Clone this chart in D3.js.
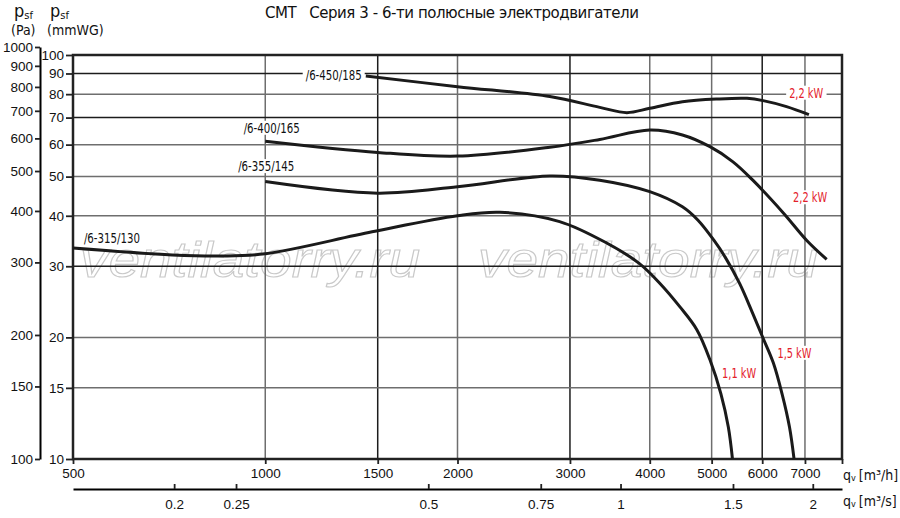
<!DOCTYPE html>
<html>
<head>
<meta charset="utf-8">
<script src="https://cdn.jsdelivr.net/npm/d3@7"></script>
<style>
  html, body { margin: 0; padding: 0; background: #fff; }
  svg { display: block; font-family: "DejaVu Sans Condensed", "DejaVu Sans", sans-serif; }
  .tick text { font-size: 13.5px; fill: #111; }
</style>
</head>
<body>
<div id="chart"></div>
<script>
// axis ticks
const pressureTicks = [10, 15, 20, 30, 40, 50, 60, 70, 80, 90, 100];
const pascalTicks = [100, 150, 200, 300, 400, 500, 600, 700, 800, 900, 1000];
const flowTicks = [500, 1000, 1500, 2000, 3000, 4000, 5000, 6000, 7000, 8000];
const flowSecTicks = [0.2, 0.25, 0.5, 0.75, 1, 1.5, 2];
const gridFlow = [1000, 1500, 2000, 3000, 4000, 5000, 6000, 7000];
const gridPressure = [15, 20, 30, 40, 50, 60, 70, 80, 90];
const darkGridFlow = [1500, 3000, 6000];
const darkGridPressure = [30, 70, 90];

// fan curves: [q m3/h, p mmWG]
const curve315 = [[500, 33.3], [715, 32.0], [850, 31.8], [1000, 32.2], [1470, 36.5], [2000, 40.0], [2330, 40.8],
  [2890, 38.7], [3430, 34.2], [3850, 30.5], [4150, 27.2], [4460, 23.8], [4740, 20.9], [4970, 17.6],
  [5170, 14.5], [5310, 12.0], [5390, 10]];
const curve355 = [[1000, 48.6], [1500, 45.5], [2000, 47.2], [2790, 50.2], [3340, 49.0], [4000, 45.9],
  [4500, 42.1], [4760, 39.0], [5040, 34.8], [5250, 31.6], [5530, 27.2], [5800, 22.9], [6020, 19.9],
  [6245, 17.3], [6445, 14.5], [6620, 12.0], [6730, 10]];
const curve400 = [[1000, 61.2], [1500, 57.4], [2000, 56.2], [2790, 59.1], [3340, 61.8], [4000, 65.2], [4500, 63.4],
  [4970, 59.3], [5400, 54.4], [5800, 49.0], [6480, 40.6], [7040, 34.8], [7570, 31.2]];
const curve450 = [[1437, 88.7], [2000, 83.5], [2790, 78.9], [3340, 74.2], [3684, 72.0], [4000, 73.8],
  [4500, 76.6], [5100, 77.8], [5680, 78.1], [6020, 77.1], [6550, 74.5], [7100, 71.2]];

const curveNames = ["/6-315/130", "/6-355/145", "/6-400/165", "/6-450/185"];
const curveData = [curve315, curve355, curve400, curve450];
// left end of each model name, at its baseline [q, p]
const nameAnchors = [[520, 34.2], [907, 51.6], [925, 64.2], [1157, 86.6]];

const powerLabels = ["1,1 kW", "1,5 kW", "2,2 kW", "2,2 kW"];
// centre of each power label, at its baseline [q, p]
const powerAnchors = [[5520, 15.9], [6740, 17.8], [7030, 78.4], [7130, 43.2]];

const W = 900, H = 518;
const svg = d3.select("#chart").append("svg").attr("width", W).attr("height", H);

const x = d3.scaleLog().domain([500, 8000]).range([73, 842]);
const y = d3.scaleLog().domain([10, 100]).range([459, 55]);
const yPa = d3.scaleLog().domain([100, 1000]).range([459, 47]);
const xSec = d3.scaleLog().domain([500 / 3600, 8000 / 3600]).range([73, 842]);

// title
svg.append("text")
  .attr("x", 452).attr("y", 18)
  .attr("text-anchor", "middle")
  .attr("font-family", "DejaVu Sans, sans-serif")
  .attr("font-size", 15)
  .attr("textLength", 374)
  .attr("fill", "#111")
  .attr("xml:space", "preserve")
  .text("CMT   Серия 3 - 6-ти полюсные электродвигатели");

// watermark
["ventilatorry.ru", "ventilatorry.ru"].forEach((t, i) => {
  svg.append("text")
    .attr("x", 80 + i * 398).attr("y", 277)
    .attr("font-family", "Liberation Sans, Arial, sans-serif")
    .attr("font-style", "italic")
    .attr("font-size", 50)
    .attr("textLength", 340)
    .attr("lengthAdjust", "spacingAndGlyphs")
    .attr("fill", "#fff")
    .attr("stroke", "#c9c9c9")
    .attr("stroke-width", 1.1)
    .text(t);
});

// grid
const grid = svg.append("g");
grid.selectAll("line.v").data(gridFlow).enter().append("line")
  .attr("x1", d => x(d)).attr("x2", d => x(d))
  .attr("y1", y(100)).attr("y2", y(10))
  .attr("stroke", d => darkGridFlow.includes(d) ? "#1c1c1c" : "#6e6e6e")
  .attr("stroke-width", 1.5);
grid.selectAll("line.h").data(gridPressure).enter().append("line")
  .attr("x1", x(500)).attr("x2", x(8000))
  .attr("y1", d => y(d)).attr("y2", d => y(d))
  .attr("stroke", d => darkGridPressure.includes(d) ? "#1c1c1c" : "#6e6e6e")
  .attr("stroke-width", 1.5);

// frame
svg.append("rect")
  .attr("x", x(500)).attr("y", y(100))
  .attr("width", x(8000) - x(500)).attr("height", y(10) - y(100))
  .attr("fill", "none").attr("stroke", "#222").attr("stroke-width", 2.5);

// axes
const fmt = d3.format("d");
const yAxis = svg.append("g").attr("transform", `translate(${x(500)},0)`)
  .call(d3.axisLeft(y).tickValues(pressureTicks).tickFormat(fmt).tickSize(7).tickPadding(2));
yAxis.select(".domain").remove();

const paAxis = svg.append("g").attr("transform", "translate(40,0)")
  .call(d3.axisLeft(yPa).tickValues(pascalTicks).tickFormat(fmt).tickSize(5).tickPadding(2).tickSizeOuter(0));
paAxis.select(".domain").attr("stroke-width", 2);

const xAxis = svg.append("g").attr("transform", `translate(0,${y(10)})`)
  .call(d3.axisBottom(x).tickValues(flowTicks).tickFormat(d => d === 8000 ? "" : fmt(d)).tickSize(5).tickPadding(4));
xAxis.select(".domain").remove();

const secAxis = svg.append("g").attr("transform", "translate(0,489)")
  .call(d3.axisBottom(xSec).tickValues(flowSecTicks).tickFormat(d3.format("")).tickSizeInner(-5).tickSizeOuter(0).tickPadding(10));
secAxis.select(".domain").attr("stroke-width", 2);

svg.selectAll(".tick line").attr("stroke", "#222").attr("stroke-width", 1.8);

// axis titles
const psf = [[14, "(Pa)"], [50, "(mmWG)"]];
psf.forEach(([px, unit]) => {
  const t = svg.append("text").attr("x", px).attr("y", 17).attr("font-size", 18).attr("fill", "#111");
  t.append("tspan").text("p");
  t.append("tspan").attr("font-size", 11).attr("dy", 2).text("sf");
  svg.append("text").attr("x", px - 3).attr("y", 35).attr("font-size", 14).attr("fill", "#111").text(unit);
});
[[475, "[m³/h]"], [501, "[m³/s]"]].forEach(([py, unit]) => {
  const t = svg.append("text").attr("x", 843).attr("y", py + 5).attr("font-size", 14).attr("fill", "#111");
  t.append("tspan").text("q");
  t.append("tspan").attr("font-size", 9).attr("dy", 1).text("v");
  t.append("tspan").attr("dy", -1).attr("dx", 3).text(unit);
});

// curves
const line = d3.line()
  .x(d => x(d[0]))
  .y(d => y(d[1]))
  .curve(d3.curveCatmullRom.alpha(0.5));

svg.append("g").selectAll("path").data(curveData).enter().append("path")
  .attr("d", line)
  .attr("fill", "none")
  .attr("stroke", "#1a1a1a")
  .attr("stroke-width", 3);

// labels with white box behind them
function boxedLabel(g, px, py, txt, color, anchor, len) {
  const t = g.append("text")
    .attr("x", px).attr("y", py)
    .attr("font-size", 14)
    .attr("text-anchor", anchor)
    .attr("textLength", len)
    .attr("lengthAdjust", "spacingAndGlyphs")
    .attr("fill", color)
    .text(txt);
  const b = t.node().getBBox();
  g.insert("rect", "text")
    .attr("x", b.x - 3).attr("y", b.y + 1)
    .attr("width", b.width + 6).attr("height", b.height - 2)
    .attr("fill", "#fff");
}

const labels = svg.append("g");
curveNames.forEach((n, i) => {
  boxedLabel(labels.append("g"), x(nameAnchors[i][0]), y(nameAnchors[i][1]), n, "#111", "start", 56);
});
powerLabels.forEach((n, i) => {
  boxedLabel(labels.append("g"), x(powerAnchors[i][0]), y(powerAnchors[i][1]), n, "#e3202a", "middle", 34);
});
</script>
</body>
</html>
